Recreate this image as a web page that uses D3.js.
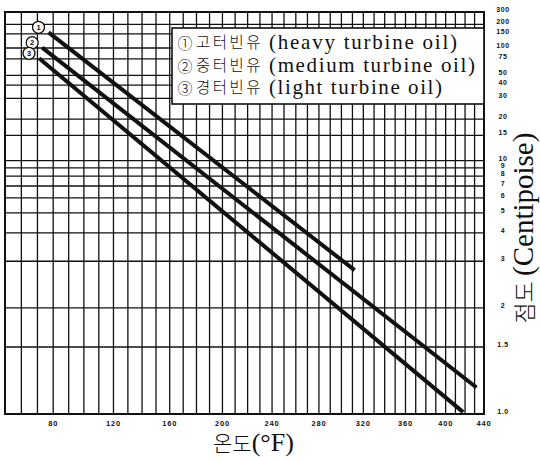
<!DOCTYPE html>
<html>
<head>
<meta charset="utf-8">
<script src="https://cdn.jsdelivr.net/npm/d3@7"></script>
<style>
  html, body { margin: 0; padding: 0; background: #fff; }
  svg { display: block; }
</style>
</head>
<body>
<svg id="chart" width="540" height="461"></svg>
<script>
// Turbine oil grades: Korean name, English name, index mark
const oilKo = ["고터빈유", "중터빈유", "경터빈유"];
const oilEn = ["(heavy turbine oil)", "(medium turbine oil)", "(light turbine oil)"];
const oilMark = ["①", "②", "③"];
const oilNum = ["1", "2", "3"];

// Each grade is a straight line on the viscosity–temperature chart:
// temperature (°F) and viscosity (cP) at both ends
const tempStart = [77, 73, 71];
const viscStart = [157, 101, 76];
const tempEnd = [312, 432, 418];
const viscEnd = [2.76, 1.16, 1.01];

// Axis ticks and ranges
const tempTicks = [80, 120, 160, 200, 240, 280, 320, 360, 400, 440];
const tempGrid = d3.range(50, 441, 10);
const tempDomain = [50, 440];
const viscTicks = [300, 200, 150, 100, 75, 50, 40, 30, 20, 15, 10, 9, 8, 7, 6, 5, 4, 3, 2, 1.5, 1.0];
const viscLabels = ["300", "200", "150", "100", "75", "50", "40", "30", "20", "15", "10", "9", "8", "7", "6", "5", "4", "3", "2", "1.5", "1.0"];
const viscDomain = [1.0, 300];

// Chart geometry
const plot = { left: 5, right: 484, top: 12, bottom: 414 };
const legendBox = { x: 172, y: 28, w: 312, h: 76 };

// Viscosity chart scales: log of absolute temperature, log-log of viscosity
const tAbs = t => Math.log10(t + 460);
const vLogLog = v => Math.log10(Math.log10(v + 0.7));
const xs = d3.scaleLinear().domain(tempDomain.map(tAbs)).range([plot.left, plot.right]);
const ys = d3.scaleLinear().domain(viscDomain.map(vLogLog)).range([plot.bottom, plot.top]);
const x = t => xs(tAbs(t));
const y = v => ys(vLogLog(v));

const svg = d3.select("#chart");
const ink = "#111";

// Grid
const grid = svg.append("g").attr("stroke", ink).attr("stroke-width", 1.3);
grid.selectAll("line.v").data(tempGrid).join("line")
  .attr("class", "v")
  .attr("x1", d => x(d)).attr("x2", d => x(d))
  .attr("y1", y(viscDomain[1])).attr("y2", y(viscDomain[0]));
grid.selectAll("line.h").data(viscTicks).join("line")
  .attr("class", "h")
  .attr("x1", x(tempDomain[0])).attr("x2", x(tempDomain[1]))
  .attr("y1", d => y(d)).attr("y2", d => y(d));

// Frame
svg.append("rect")
  .attr("x", x(tempDomain[0])).attr("y", y(viscDomain[1]))
  .attr("width", x(tempDomain[1]) - x(tempDomain[0]))
  .attr("height", y(viscDomain[0]) - y(viscDomain[1]))
  .attr("fill", "none").attr("stroke", ink).attr("stroke-width", 2);

// Oil lines
const oils = oilKo.map((k, i) => ({
  i,
  pts: [[tempStart[i], viscStart[i]], [tempEnd[i], viscEnd[i]]]
}));
const lineGen = d3.line().x(d => x(d[0])).y(d => y(d[1]));
svg.append("g").selectAll("path").data(oils).join("path")
  .attr("d", d => lineGen(d.pts))
  .attr("fill", "none").attr("stroke", ink).attr("stroke-width", 4);

// Index circles at the start of each line
const marks = svg.append("g").selectAll("g").data(oils).join("g")
  .attr("transform", d => `translate(${x(tempStart[d.i]) - 10},${y(viscStart[d.i]) - 5})`);
marks.append("circle").attr("r", 6)
  .attr("fill", "#fff").attr("stroke", ink).attr("stroke-width", 1.3);
marks.append("text").text(d => oilNum[d.i])
  .attr("text-anchor", "middle").attr("dy", "0.35em")
  .attr("font-family", "Liberation Sans, sans-serif").attr("font-size", 7.5)
  .attr("font-weight", "bold").attr("fill", ink);

// Legend
svg.append("rect")
  .attr("x", legendBox.x).attr("y", legendBox.y)
  .attr("width", legendBox.w).attr("height", legendBox.h)
  .attr("fill", "#fff").attr("stroke", ink).attr("stroke-width", 1.6);
const enWidth = [188, 206, 173];
const leg = svg.append("g").selectAll("g").data(oils).join("g")
  .attr("transform", d => `translate(0,${49 + d.i * 22.5})`);
leg.append("text").text(d => oilMark[d.i])
  .attr("x", 185).attr("y", 0).attr("text-anchor", "middle")
  .attr("font-family", "Noto Sans CJK KR").attr("font-size", 15)
  .attr("font-weight", 300).attr("fill", ink);
leg.append("text").text(d => oilKo[d.i])
  .attr("x", 196).attr("y", -1)
  .attr("font-family", "Noto Sans CJK KR").attr("font-size", 15.5)
  .attr("letter-spacing", 2.5)
  .attr("font-weight", 300).attr("fill", ink);
leg.append("text").text(d => oilEn[d.i])
  .attr("x", 269)
  .attr("textLength", d => enWidth[d.i]).attr("lengthAdjust", "spacing")
  .attr("font-family", "Liberation Serif, serif").attr("font-size", 21).attr("fill", ink);

// Temperature tick labels
svg.append("g").selectAll("text").data(tempTicks).join("text")
  .text(d => d)
  .attr("x", d => x(d)).attr("y", 426)
  .attr("text-anchor", "middle")
  .attr("font-family", "Liberation Sans Narrow, Liberation Sans, sans-serif")
  .attr("font-size", 7.5).attr("font-weight", "bold").attr("letter-spacing", 0.8)
  .attr("fill", ink);

// Viscosity tick labels
svg.append("g").selectAll("text").data(viscTicks).join("text")
  .text((d, i) => viscLabels[i])
  .attr("x", 503).attr("y", d => y(d) - 2.5)
  .attr("dy", "0.35em").attr("text-anchor", "middle")
  .attr("font-family", "Liberation Sans Narrow, Liberation Sans, sans-serif")
  .attr("font-size", 7).attr("font-weight", "bold").attr("letter-spacing", 0.6)
  .attr("fill", ink);

// Axis titles
const xt = svg.append("text").attr("x", 213).attr("y", 451).attr("fill", ink);
xt.append("tspan").text("온도")
  .attr("font-family", "Noto Sans CJK KR").attr("font-size", 21).attr("font-weight", 300);
xt.append("tspan").text("(°F)")
  .attr("font-family", "Liberation Serif, serif").attr("font-size", 26);

const yt = svg.append("text")
  .attr("transform", "translate(533,228) rotate(-90)")
  .attr("text-anchor", "middle").attr("fill", ink);
yt.append("tspan").text("점도 ")
  .attr("font-family", "Noto Sans CJK KR").attr("font-size", 23).attr("font-weight", 300);
yt.append("tspan").text("(Centipoise)")
  .attr("font-family", "Liberation Serif, serif").attr("font-size", 29);
</script>
</body>
</html>
